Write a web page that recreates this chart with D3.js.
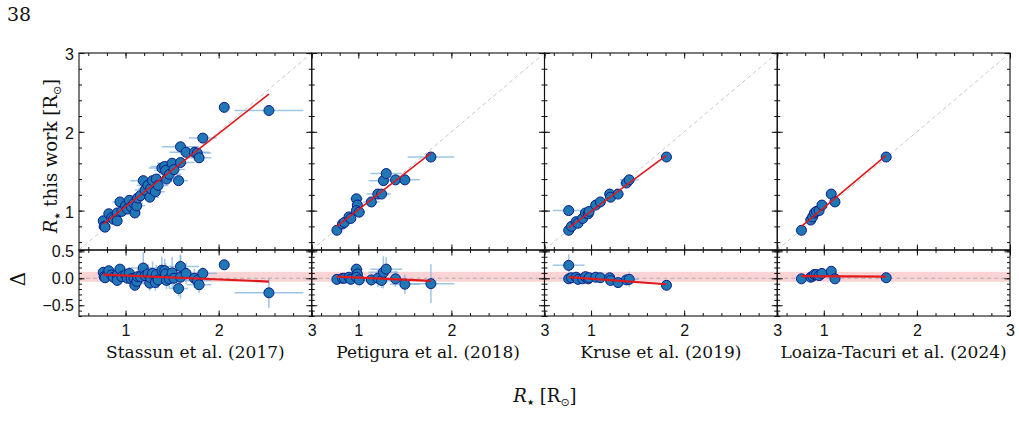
<!DOCTYPE html>
<html>
<head>
<meta charset="utf-8">
<script src="https://cdn.jsdelivr.net/npm/d3@7"></script>
<style>
    body { margin: 0; background: #fff; }
    svg { display: block; font-family: "DejaVu Serif", serif; }
    .tick text { font-size: 16px; fill: #111; }
</style>
</head>
<body>
<div id="chart"></div>
<script>
(function () {
    /* ----------------------- Data ----------------------- */
    const panelNames = ["Stassun et al. (2017)", "Petigura et al. (2018)", "Kruse et al. (2019)", "Loaiza-Tacuri et al. (2024)"];

    // literature radius, this-work radius, literature error, residual error
    const stassunLit = [0.76, 0.77, 0.78, 0.82, 0.85, 0.87, 0.91, 0.91, 0.94, 0.96, 1.00, 1.02, 1.04, 1.06, 1.09, 1.10, 1.12, 1.13, 1.16, 1.19, 1.21, 1.24, 1.26, 1.27, 1.29, 1.32, 1.33, 1.35, 1.39, 1.42, 1.43, 1.44, 1.47, 1.50, 1.52, 1.57, 1.59, 1.59, 1.65, 1.74, 1.77, 1.79, 1.83, 2.06, 2.54];
    const stassunOurs = [0.87, 0.80, 0.79, 0.96, 0.91, 0.89, 0.97, 0.87, 1.11, 0.99, 1.06, 1.02, 1.13, 1.05, 1.09, 0.97, 1.06, 1.16, 1.19, 1.38, 1.26, 1.32, 1.17, 1.28, 1.38, 1.24, 1.40, 1.32, 1.54, 1.56, 1.51, 1.40, 1.46, 1.60, 1.52, 1.38, 1.61, 1.81, 1.74, 1.74, 1.73, 1.67, 1.92, 2.31, 2.27];
    const stassunLitErr = [0.04, 0.04, 0.05, 0.05, 0.06, 0.05, 0.06, 0.05, 0.08, 0.06, 0.08, 0.07, 0.09, 0.08, 0.10, 0.06, 0.09, 0.10, 0.12, 0.14, 0.11, 0.12, 0.10, 0.13, 0.14, 0.10, 0.12, 0.11, 0.14, 0.15, 0.12, 0.11, 0.13, 0.16, 0.12, 0.10, 0.15, 0.20, 0.18, 0.16, 0.15, 0.13, 0.15, 0.00, 0.37];
    const stassunDeltaErr = [0.06, 0.05, 0.06, 0.07, 0.06, 0.08, 0.07, 0.06, 0.09, 0.08, 0.10, 0.09, 0.12, 0.10, 0.14, 0.09, 0.12, 0.15, 0.14, 0.30, 0.16, 0.18, 0.14, 0.20, 0.22, 0.15, 0.18, 0.16, 0.25, 0.22, 0.20, 0.16, 0.18, 0.30, 0.20, 0.14, 0.40, 0.22, 0.20, 0.18, 0.14, 0.16, 0.12, 0.00, 0.28];

    const petiguraLit = [0.77, 0.83, 0.85, 0.90, 0.92, 0.98, 0.99, 0.98, 1.01, 1.14, 1.21, 1.25, 1.27, 1.30, 1.40, 1.50, 1.78];
    const petiguraOurs = [0.75, 0.83, 0.85, 0.92, 0.90, 1.15, 1.07, 1.00, 0.98, 1.11, 1.21, 1.21, 1.38, 1.47, 1.39, 1.39, 1.68];
    const petiguraLitErr = [0.03, 0.04, 0.03, 0.04, 0.04, 0.07, 0.06, 0.05, 0.06, 0.09, 0.12, 0.10, 0.16, 0.17, 0.12, 0.16, 0.25];
    const petiguraDeltaErr = [0.04, 0.05, 0.04, 0.05, 0.05, 0.10, 0.08, 0.07, 0.08, 0.12, 0.16, 0.14, 0.30, 0.22, 0.15, 0.18, 0.36];

    const kruseLit = [0.76, 0.76, 0.79, 0.84, 0.86, 0.91, 0.94, 0.97, 0.98, 1.05, 1.10, 1.20, 1.21, 1.29, 1.38, 1.41, 1.81];
    const kruseOurs = [0.75, 1.00, 0.80, 0.86, 0.84, 0.90, 0.97, 0.96, 0.99, 1.07, 1.11, 1.21, 1.17, 1.21, 1.35, 1.39, 1.68];
    const kruseLitErr = [0.02, 0.17, 0.03, 0.03, 0.03, 0.04, 0.04, 0.04, 0.04, 0.04, 0.05, 0.05, 0.05, 0.06, 0.07, 0.10, 0.03];
    const kruseDeltaErr = [0.03, 0.20, 0.03, 0.04, 0.04, 0.04, 0.05, 0.05, 0.05, 0.05, 0.06, 0.06, 0.06, 0.07, 0.08, 0.14, 0.03];

    const loaizaLit = [0.76, 0.86, 0.88, 0.90, 0.92, 0.95, 0.98, 1.08, 1.12, 1.67];
    const loaizaOurs = [0.75, 0.88, 0.92, 0.97, 0.99, 1.00, 1.07, 1.21, 1.11, 1.68];
    const loaizaLitErr = [0, 0, 0, 0, 0, 0, 0, 0, 0, 0];
    const loaizaDeltaErr = [0, 0, 0, 0, 0, 0, 0, 0, 0, 0];

    // linear fit (this work vs literature) per panel
    const fitSlope = [0.927, 0.921, 0.876, 0.989];
    const fitIntercept = [0.125, 0.091, 0.114, 0.048];

    // shaded residual band
    const bandRange = [-0.065, 0.12];

    const radiusTicks = [1, 2, 3];
    const radiusLeftTicks = [0.5, 1, 2, 3];
    const deltaTicks = [-0.5, 0.0, 0.5];
    const deltaLabelTicks = [-0.5, 0.0];

    /* ----------------------- Layout ----------------------- */
    const W = 1019, H = 429;
    const plotLeft = 79, plotRight = 1010;
    const panelW = (plotRight - plotLeft) / panelNames.length;
    const topY0 = 53, topY1 = 250, botY1 = 316;

    const svg = d3.select("#chart").append("svg")
        .attr("width", W).attr("height", H)
        .attr("viewBox", `0 0 ${W} ${H}`);

    const litSets = [stassunLit, petiguraLit, kruseLit, loaizaLit];
    const oursSets = [stassunOurs, petiguraOurs, kruseOurs, loaizaOurs];
    const litErrSets = [stassunLitErr, petiguraLitErr, kruseLitErr, loaizaLitErr];
    const dErrSets = [stassunDeltaErr, petiguraDeltaErr, kruseDeltaErr, loaizaDeltaErr];

    const yTop = d3.scaleLinear().domain([0.5, 3]).range([topY1, topY0]);
    const yBot = d3.scaleLinear().domain([-0.7, 0.525]).range([botY1, topY1]);

    const minorR = d3.range(0.6, 3.0001, 0.2).map((v) => +v.toFixed(2));
    const minorD = d3.range(-0.7, 0.5001, 0.1).map((v) => +v.toFixed(2));

    const errColor = "#7fb3dc";
    const markFill = "#1f77b4";
    const markEdge = "#0b1d8c";
    const fitColor = "#e0191d";

    // Draws inward ticks on all four sides of a box
    function frameTicks(g, x, y, xMajor, yMajor, xMinor, yMinor, left, right, top, bottom) {
        [[d3.axisBottom, bottom], [d3.axisTop, top]].forEach(([ax, pos]) => {
            g.append("g").attr("transform", `translate(0,${pos})`)
                .call(ax(x).tickValues(xMinor).tickSize(-3).tickSizeOuter(0).tickFormat(""));
            g.append("g").attr("transform", `translate(0,${pos})`)
                .call(ax(x).tickValues(xMajor).tickSize(-5.5).tickSizeOuter(0).tickFormat(""));
        });
        [[d3.axisLeft, left], [d3.axisRight, right]].forEach(([ax, pos]) => {
            g.append("g").attr("transform", `translate(${pos},0)`)
                .call(ax(y).tickValues(yMinor).tickSize(-3).tickSizeOuter(0).tickFormat(""));
            g.append("g").attr("transform", `translate(${pos},0)`)
                .call(ax(y).tickValues(yMajor).tickSize(-5.5).tickSizeOuter(0).tickFormat(""));
        });
        g.selectAll(".domain").remove();
        g.selectAll(".tick line").attr("stroke", "#111").attr("stroke-width", 1);
    }

    panelNames.forEach((name, i) => {
        const left = plotLeft + i * panelW;
        const right = left + panelW;
        const x = d3.scaleLinear().domain([0.5, 3]).range([left, right]);

        const pts = litSets[i].map((lit, k) => ({
            lit: lit,
            ours: oursSets[i][k],
            err: litErrSets[i][k],
            dErr: dErrSets[i][k],
            delta: oursSets[i][k] - lit,
        }));
        const xMin = d3.min(pts, (d) => d.lit);
        const xMax = d3.max(pts, (d) => d.lit);
        const fit = (v) => fitIntercept[i] + fitSlope[i] * v;

        const g = svg.append("g");

        /* ---- top panel ---- */
        const clipId = `clip-top-${i}`;
        svg.append("clipPath").attr("id", clipId).append("rect")
            .attr("x", left).attr("y", topY0).attr("width", panelW).attr("height", topY1 - topY0);
        const gt = g.append("g").attr("clip-path", `url(#${clipId})`);

        gt.append("line")
            .attr("x1", x(0.5)).attr("y1", yTop(0.5))
            .attr("x2", x(3)).attr("y2", yTop(3))
            .attr("stroke", "#c8c8c8").attr("stroke-width", 1).attr("stroke-dasharray", "4,3");

        gt.selectAll(".xerr").data(pts.filter((d) => d.err > 0)).enter().append("line")
            .attr("x1", (d) => x(d.lit - d.err)).attr("x2", (d) => x(d.lit + d.err))
            .attr("y1", (d) => yTop(d.ours)).attr("y2", (d) => yTop(d.ours))
            .attr("stroke", errColor).attr("stroke-opacity", 0.75).attr("stroke-width", 1.5);

        gt.selectAll(".pt").data(pts).enter().append("circle")
            .attr("cx", (d) => x(d.lit)).attr("cy", (d) => yTop(d.ours)).attr("r", 5)
            .attr("fill", markFill).attr("stroke", markEdge).attr("stroke-width", 1);

        gt.append("line")
            .attr("x1", x(xMin)).attr("y1", yTop(fit(xMin)))
            .attr("x2", x(xMax)).attr("y2", yTop(fit(xMax)))
            .attr("stroke", fitColor).attr("stroke-width", 1.6);

        /* ---- bottom panel ---- */
        const clipB = `clip-bot-${i}`;
        svg.append("clipPath").attr("id", clipB).append("rect")
            .attr("x", left).attr("y", topY1).attr("width", panelW).attr("height", botY1 - topY1);
        const gb = g.append("g").attr("clip-path", `url(#${clipB})`);

        gb.append("rect")
            .attr("x", left).attr("width", panelW)
            .attr("y", yBot(bandRange[1])).attr("height", yBot(bandRange[0]) - yBot(bandRange[1]))
            .attr("fill", "#e8242a").attr("fill-opacity", 0.2);

        gb.append("line")
            .attr("x1", left).attr("x2", right)
            .attr("y1", yBot(0)).attr("y2", yBot(0))
            .attr("stroke", "#b0b0b0").attr("stroke-width", 1).attr("stroke-dasharray", "4,3");

        const withErr = pts.filter((d) => d.err > 0 || d.dErr > 0);
        gb.selectAll(".xerr").data(withErr).enter().append("line")
            .attr("x1", (d) => x(d.lit - d.err)).attr("x2", (d) => x(d.lit + d.err))
            .attr("y1", (d) => yBot(d.delta)).attr("y2", (d) => yBot(d.delta))
            .attr("stroke", errColor).attr("stroke-opacity", 0.75).attr("stroke-width", 1.5);
        gb.selectAll(".yerr").data(withErr).enter().append("line")
            .attr("x1", (d) => x(d.lit)).attr("x2", (d) => x(d.lit))
            .attr("y1", (d) => yBot(d.delta - d.dErr)).attr("y2", (d) => yBot(d.delta + d.dErr))
            .attr("stroke", errColor).attr("stroke-opacity", 0.75).attr("stroke-width", 1.5);

        gb.selectAll(".pt").data(pts).enter().append("circle")
            .attr("cx", (d) => x(d.lit)).attr("cy", (d) => yBot(d.delta)).attr("r", 5)
            .attr("fill", markFill).attr("stroke", markEdge).attr("stroke-width", 1);

        gb.append("line")
            .attr("x1", x(xMin)).attr("y1", yBot(fit(xMin) - xMin))
            .attr("x2", x(xMax)).attr("y2", yBot(fit(xMax) - xMax))
            .attr("stroke", fitColor).attr("stroke-width", 2.2);

        /* ---- ticks & frames ---- */
        frameTicks(g.append("g"), x, yTop, radiusTicks, radiusLeftTicks, minorR, minorR, left, right, topY0, topY1);
        frameTicks(g.append("g"), x, yBot, radiusTicks, deltaTicks, minorR, minorD, left, right, topY1, botY1);

        g.append("rect").attr("x", left).attr("y", topY0).attr("width", panelW).attr("height", topY1 - topY0)
            .attr("fill", "none").attr("stroke", "#111").attr("stroke-width", 1.1);
        g.append("rect").attr("x", left).attr("y", topY1).attr("width", panelW).attr("height", botY1 - topY1)
            .attr("fill", "none").attr("stroke", "#111").attr("stroke-width", 1.1);

        // x tick labels
        g.append("g").attr("transform", `translate(0,${botY1})`)
            .call(d3.axisBottom(x).tickValues(radiusTicks).tickSize(0).tickPadding(9).tickFormat(d3.format("d")))
            .call((a) => a.select(".domain").remove());

        if (i === 0) {
            g.append("g").attr("transform", `translate(${left},1.5)`)
                .call(d3.axisLeft(yTop).tickValues(radiusLeftTicks).tickSize(0).tickPadding(5)
                    .tickFormat((d) => (d === 0.5 ? "0.5" : d3.format("d")(d))))
                .call((a) => a.select(".domain").remove());
            g.append("g").attr("transform", `translate(${left},0)`)
                .call(d3.axisLeft(yBot).tickValues(deltaLabelTicks).tickSize(0).tickPadding(5)
                    .tickFormat((d) => d3.format(".1f")(d).replace("-", "\u2212")))
                .call((a) => a.select(".domain").remove());
        }

        g.append("text")
            .attr("x", (left + right) / 2).attr("y", 358)
            .attr("text-anchor", "middle").attr("font-size", 17).attr("fill", "#111")
            .text(name);
    });

    /* ----------------------- Labels ----------------------- */
    svg.append("text").attr("x", 7).attr("y", 21).attr("font-size", 19).attr("fill", "#111").text("38");

    function radiusLabel(sel, middle) {
        sel.append("tspan").attr("font-style", "italic").text("R");
        sel.append("tspan").attr("font-family", "DejaVu Sans").attr("font-size", 8).attr("dy", 3).text("\u2605");
        sel.append("tspan").attr("dy", -3).text(middle);
        sel.append("tspan").attr("font-family", "DejaVu Sans").attr("font-size", 11).attr("dy", 4).text("\u2299");
        sel.append("tspan").attr("dy", -4).text("]");
    }

    const yl = svg.append("text")
        .attr("transform", "translate(57,156) rotate(-90)")
        .attr("text-anchor", "middle").attr("font-size", 18).attr("fill", "#111");
    radiusLabel(yl, " this work [R");

    svg.append("text")
        .attr("transform", "translate(25,279) rotate(-90)")
        .attr("text-anchor", "middle").attr("font-size", 20).attr("fill", "#111")
        .text("\u0394");

    const xl = svg.append("text")
        .attr("x", 545).attr("y", 402)
        .attr("text-anchor", "middle").attr("font-size", 18).attr("fill", "#111");
    radiusLabel(xl, " [R");
})();
</script>
</body>
</html>
